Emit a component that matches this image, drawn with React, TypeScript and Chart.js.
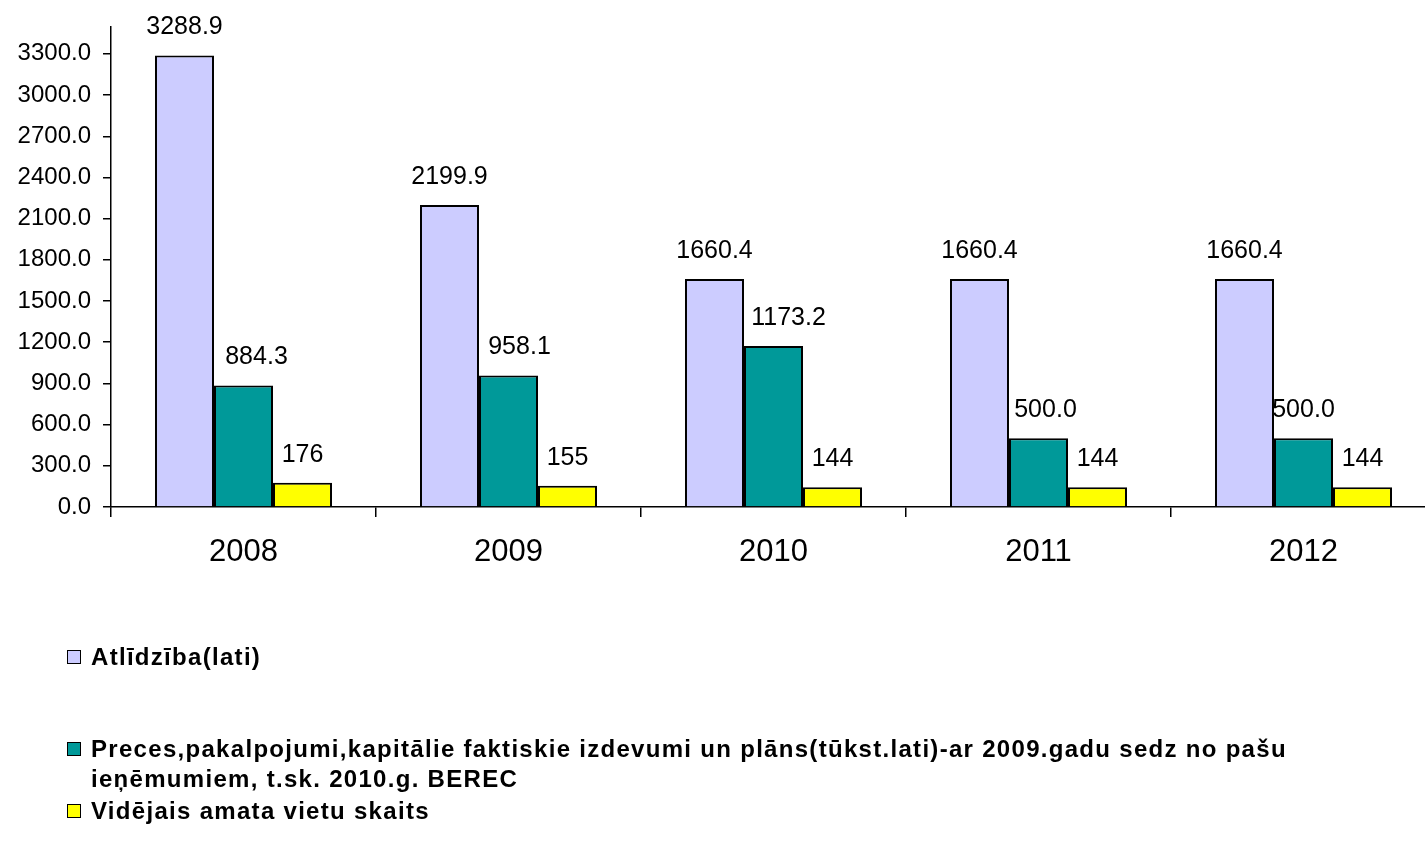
import React, { useEffect, useRef } from 'react';
import { Chart, registerables } from 'chart.js';

Chart.register(...registerables);

const categories = ['2008', '2009', '2010', '2011', '2012'];
const atlidziba = [3288.9, 2199.9, 1660.4, 1660.4, 1660.4];
const preces = [884.3, 958.1, 1173.2, 500.0, 500.0];
const vietas = [176, 155, 144, 144, 144];
const seriesNames = [
  'Atlīdzība(lati)',
  'Preces,pakalpojumi,kapitālie faktiskie izdevumi un plāns(tūkst.lati)-ar 2009.gadu sedz no pašu ieņēmumiem, t.sk. 2010.g. BEREC',
  'Vidējais amata vietu skaits',
];
const seriesColors = ['#CCCCFF', '#009999', '#FFFF00'];
const seriesDecimals = [1, 1, 0];
const yMax = 3500;
const yStep = 300;
const yLastTick = 3300;

const FONT = '"Liberation Sans", Arial, sans-serif';

// horizontal nudges of the value labels (as placed in the original)
const labelNudges = [
  [0, 0, 0, 0, 0],
  [13, 11, 15, 7, 0],
  [0, 0, 0, 0, 0],
];

const valueLabels = {
  id: 'valueLabels',
  afterDatasetsDraw(chart: any) {
    const ctx = chart.ctx;
    ctx.save();
    ctx.font = `25px ${FONT}`;
    ctx.fillStyle = '#000';
    ctx.textAlign = 'center';
    ctx.textBaseline = 'middle';
    chart.data.datasets.forEach((ds: any, i: number) => {
      const meta = chart.getDatasetMeta(i);
      meta.data.forEach((bar: any, j: number) => {
        const v = Number(ds.data[j]);
        ctx.fillText(
          v.toFixed(seriesDecimals[i]),
          bar.x + labelNudges[i][j],
          bar.y - 28
        );
      });
    });
    ctx.restore();
  },
};

export default function App() {
  const canvasRef = useRef<HTMLCanvasElement | null>(null);

  useEffect(() => {
    if (!canvasRef.current) return;
    const seriesData = [atlidziba, preces, vietas];
    const chart = new Chart(canvasRef.current, {
      type: 'bar',
      data: {
        labels: categories,
        datasets: seriesData.map((d, i) => ({
          label: seriesNames[i],
          data: d,
          backgroundColor: seriesColors[i],
          borderColor: '#000',
          borderWidth: 2,
          barPercentage: 1,
          categoryPercentage: 0.668,
        })),
      },
      options: {
        responsive: false,
        animation: false,
        layout: { padding: { top: 23, left: 0, right: 0, bottom: 0 } },
        plugins: {
          legend: { display: false },
          tooltip: { enabled: false },
        },
        scales: {
          x: {
            grid: {
              display: true,
              drawOnChartArea: false,
              drawTicks: true,
              tickLength: 10,
              color: '#000',
              lineWidth: 1.5,
              offset: true,
            },
            border: { display: true, color: '#000', width: 1.5 },
            ticks: {
              color: '#000',
              font: { family: FONT, size: 31 },
              padding: 17,
              maxRotation: 0,
            },
            afterFit: (s: any) => {
              s.height = 346;
            },
          },
          y: {
            min: 0,
            max: yMax,
            ticks: {
              stepSize: yStep,
              color: '#000',
              font: { family: FONT, size: 24 },
              padding: 12,
              callback: (v: any) => Number(v).toFixed(1),
            },
            grid: {
              drawOnChartArea: false,
              drawTicks: true,
              tickLength: 8,
              color: '#000',
              lineWidth: 1.5,
            },
            border: { display: true, color: '#000', width: 1.5 },
            afterBuildTicks: (s: any) => {
              s.ticks = s.ticks.filter((t: any) => t.value <= yLastTick);
            },
            afterFit: (s: any) => {
              s.width = 111;
            },
          },
        },
      },
      plugins: [valueLabels],
    });
    return () => chart.destroy();
  }, []);

  const legendText: React.CSSProperties = {
    fontFamily: FONT,
    fontWeight: 'bold',
    fontSize: 24,
    letterSpacing: '1.3px',
    lineHeight: '30px',
    color: '#000',
    whiteSpace: 'nowrap',
  };
  const box = (c: string): React.CSSProperties => ({
    width: 12,
    height: 12,
    background: c,
    border: '1.5px solid #000',
    marginTop: 8,
    marginRight: 10,
    flex: '0 0 auto',
  });
  const legendTops = [642, 734, 796];
  const legendLines = [
    [seriesNames[0]],
    [
      'Preces,pakalpojumi,kapitālie faktiskie izdevumi un plāns(tūkst.lati)-ar 2009.gadu sedz no pašu',
      'ieņēmumiem, t.sk. 2010.g. BEREC',
    ],
    [seriesNames[2]],
  ];

  return (
    <div
      style={{
        position: 'fixed',
        left: 0,
        top: 0,
        width: 1425,
        height: 853,
        overflow: 'hidden',
        background: '#fff',
      }}
    >
      <canvas
        ref={canvasRef}
        width={1436}
        height={853}
        style={{ display: 'block', width: 1436, height: 853 }}
      />
      {legendLines.map((lines, i) => (
        <div
          key={i}
          style={{
            position: 'absolute',
            left: 67,
            top: legendTops[i],
            display: 'flex',
            alignItems: 'flex-start',
          }}
        >
          <div style={box(seriesColors[i])} />
          <div style={legendText}>
            {lines.map((l, k) => (
              <div key={k}>{l}</div>
            ))}
          </div>
        </div>
      ))}
    </div>
  );
}
